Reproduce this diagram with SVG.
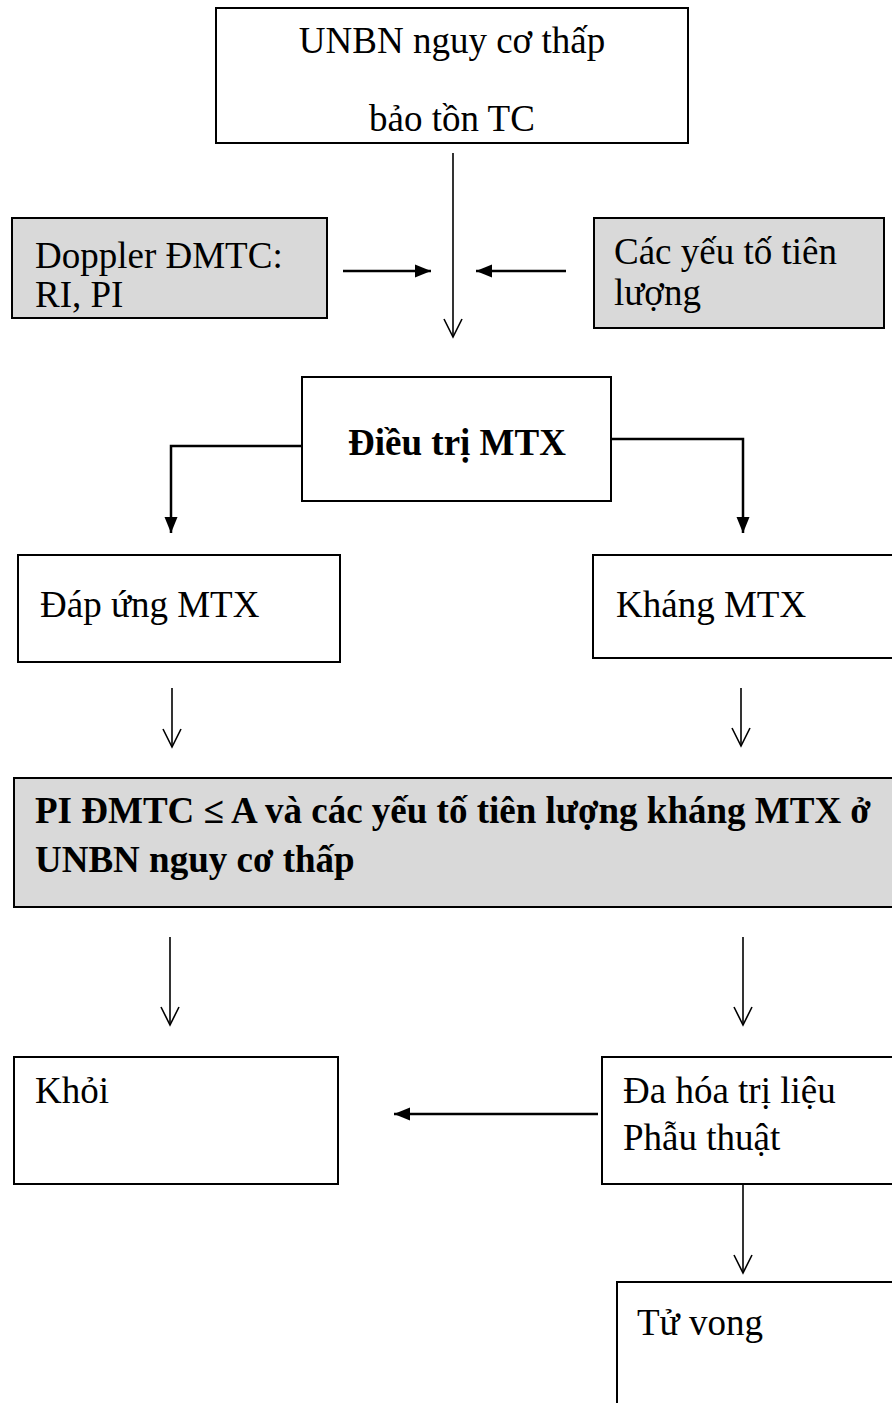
<svg xmlns="http://www.w3.org/2000/svg" width="892" height="1403" viewBox="0 0 892 1403">
  <style>
    .box { fill: #ffffff; stroke: #000000; stroke-width: 2; }
    .gray { fill: #d9d9d9; stroke: #000000; stroke-width: 2; }
    .t { font-family: "Liberation Serif", "Times New Roman", serif; font-size: 37px; fill: #000000; }
    .b { font-weight: bold; }
    .thick { fill: none; stroke: #000000; stroke-width: 2.5; }
    .thin { fill: none; stroke: #000000; stroke-width: 1.6; }
  </style>
  <defs>
    <marker id="solid" markerUnits="userSpaceOnUse" markerWidth="18" markerHeight="14" refX="16" refY="6.5" orient="auto" overflow="visible">
      <path d="M0,0 L16,6.5 L0,13 z" fill="#000000"/>
    </marker>
    <marker id="open" markerUnits="userSpaceOnUse" markerWidth="20" markerHeight="22" refX="18" refY="10" orient="auto" overflow="visible">
      <path d="M0,1 L18,10 L0,19" fill="none" stroke="#000000" stroke-width="1.6"/>
    </marker>
  </defs>

  <g id="connectors">
    <line class="thin" x1="453" y1="153" x2="453" y2="337" marker-end="url(#open)"/>
    <line class="thick" x1="343" y1="271" x2="431" y2="271" marker-end="url(#solid)"/>
    <line class="thick" x1="566" y1="271" x2="476" y2="271" marker-end="url(#solid)"/>
    <polyline class="thick" points="302,446 171,446 171,533" marker-end="url(#solid)"/>
    <polyline class="thick" points="611,439 743,439 743,533" marker-end="url(#solid)"/>
    <line class="thin" x1="172" y1="688" x2="172" y2="747" marker-end="url(#open)"/>
    <line class="thin" x1="741" y1="688" x2="741" y2="746" marker-end="url(#open)"/>
    <line class="thin" x1="170" y1="937" x2="170" y2="1025" marker-end="url(#open)"/>
    <line class="thin" x1="743" y1="937" x2="743" y2="1025" marker-end="url(#open)"/>
    <line class="thick" x1="598" y1="1114" x2="394" y2="1114" marker-end="url(#solid)"/>
    <line class="thin" x1="743" y1="1184" x2="743" y2="1273" marker-end="url(#open)"/>
  </g>

  <g id="node-unbn">
    <rect class="box" x="216" y="8" width="472" height="135"/>
    <text class="t" x="452" y="53" text-anchor="middle">UNBN nguy cơ thấp</text>
    <text class="t" x="452" y="131" text-anchor="middle">bảo tồn TC</text>
  </g>

  <g id="node-doppler">
    <rect class="gray" x="12" y="218" width="315" height="100"/>
    <text class="t" x="35" y="268">Doppler ĐMTC:</text>
    <text class="t" x="35" y="307">RI, PI</text>
  </g>

  <g id="node-yeuto">
    <rect class="gray" x="594" y="218" width="290" height="110"/>
    <text class="t" x="614" y="264">Các yếu tố tiên</text>
    <text class="t" x="614" y="305">lượng</text>
  </g>

  <g id="node-dieutri">
    <rect class="box" x="302" y="377" width="309" height="124"/>
    <text class="t b" x="457" y="455" text-anchor="middle">Điều trị MTX</text>
  </g>

  <g id="node-dapung">
    <rect class="box" x="18" y="555" width="322" height="107"/>
    <text class="t" x="40" y="617">Đáp ứng MTX</text>
  </g>

  <g id="node-khang">
    <rect class="box" x="593" y="555" width="310" height="103"/>
    <text class="t" x="616" y="617">Kháng MTX</text>
  </g>

  <g id="node-pi">
    <rect class="gray" x="14" y="778" width="890" height="129"/>
    <text class="t b" x="35" y="823">PI ĐMTC ≤ A và các yếu tố tiên lượng kháng MTX ở</text>
    <text class="t b" x="35" y="872">UNBN nguy cơ thấp</text>
  </g>

  <g id="node-khoi">
    <rect class="box" x="14" y="1057" width="324" height="127"/>
    <text class="t" x="35" y="1103">Khỏi</text>
  </g>

  <g id="node-dahoa">
    <rect class="box" x="602" y="1057" width="300" height="127"/>
    <text class="t" x="623" y="1103">Đa hóa trị liệu</text>
    <text class="t" x="623" y="1150">Phẫu thuật</text>
  </g>

  <g id="node-tuvong">
    <rect class="box" x="617" y="1282" width="290" height="140"/>
    <text class="t" x="637" y="1335">Tử vong</text>
  </g>
</svg>
